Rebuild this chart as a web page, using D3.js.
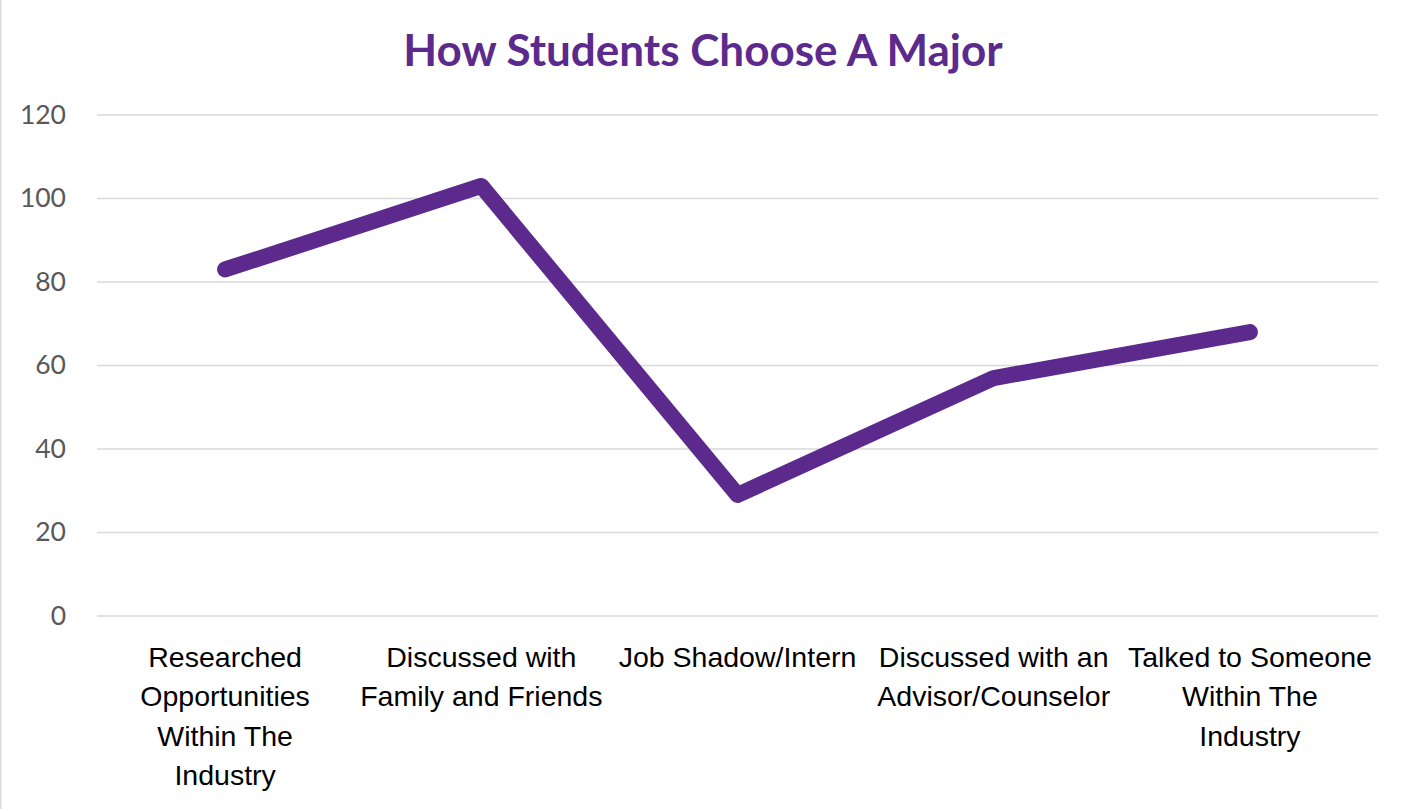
<!DOCTYPE html>
<html>
<head>
<meta charset="utf-8">
<script src="https://cdn.jsdelivr.net/npm/d3@7"></script>
<style>
  body { margin: 0; background: #fff; }
</style>
</head>
<body>
<div id="chart"></div>
<script>
// Survey answers: how students choose a major
const categories = [
    "Researched Opportunities Within The Industry",
    "Discussed with Family and Friends",
    "Job Shadow/Intern",
    "Discussed with an Advisor/Counselor",
    "Talked to Someone Within The Industry"
];
// label lines as they wrap in the original
const categoryLines = [
    ["Researched", "Opportunities", "Within The", "Industry"],
    ["Discussed with", "Family and Friends"],
    ["Job Shadow/Intern"],
    ["Discussed with an", "Advisor/Counselor"],
    ["Talked to Someone", "Within The", "Industry"]
];
const values = [83, 103, 29, 57, 68];
const yTicks = [0, 20, 40, 60, 80, 100, 120];

const width = 1405;
const height = 809;
const margin = { top: 115, right: 27, bottom: 193, left: 97 };
const purple = "#5b2a8c";

const svg = d3.select("#chart")
    .append("svg")
    .attr("width", width)
    .attr("height", height)
    .style("font-family", "Lato, 'Open Sans', sans-serif");

// chart border
svg.append("rect")
    .attr("x", 0.5)
    .attr("y", -2)
    .attr("width", width + 2)
    .attr("height", height + 4)
    .attr("fill", "#fff")
    .attr("stroke", "#d9d9d9")
    .attr("stroke-width", 2);

const x = d3.scaleBand()
    .domain(categories)
    .range([margin.left, width - margin.right]);

const y = d3.scaleLinear()
    .domain([0, 120])
    .range([height - margin.bottom, margin.top]);

// gridlines
svg.append("g")
    .selectAll("line")
    .data(yTicks)
    .join("line")
    .attr("x1", margin.left)
    .attr("x2", width - margin.right)
    .attr("y1", d => y(d))
    .attr("y2", d => y(d))
    .attr("stroke", "#d9d9d9")
    .attr("stroke-width", 1.5);

// y axis labels
const yAxis = svg.append("g")
    .attr("transform", `translate(${margin.left - 31},0)`)
    .call(d3.axisLeft(y).tickValues(yTicks).tickSize(0).tickPadding(0));
yAxis.select(".domain").remove();
yAxis.selectAll("text")
    .style("font-family", "Lato, 'Open Sans', sans-serif")
    .style("font-size", "26.5px")
    .attr("fill", "#595959");

// x axis labels
const xAxis = svg.append("g")
    .attr("transform", `translate(0,${height - margin.bottom})`)
    .call(d3.axisBottom(x).tickSize(0).tickFormat(""));
xAxis.select(".domain").remove();
xAxis.selectAll(".tick text").remove();
xAxis.selectAll(".tick")
    .append("text")
    .attr("fill", "#000")
    .attr("text-anchor", "middle")
    .style("font-size", "28.5px")
    .selectAll("tspan")
    .data((d, i) => categoryLines[i])
    .join("tspan")
    .attr("x", 0)
    .attr("y", (d, i) => 51 + i * 39.3)
    .text(d => d);

// line
const line = d3.line()
    .x((d, i) => x(categories[i]) + x.bandwidth() / 2)
    .y(d => y(d));

svg.append("path")
    .datum(values)
    .attr("d", line)
    .attr("fill", "none")
    .attr("stroke", purple)
    .attr("stroke-width", 16)
    .attr("stroke-linecap", "round")
    .attr("stroke-linejoin", "round");

// title
svg.append("text")
    .attr("x", 703)
    .attr("y", 66)
    .attr("text-anchor", "middle")
    .attr("fill", purple)
    .style("font-size", "44px")
    .style("font-weight", "bold")
    .text("How Students Choose A Major");
</script>
</body>
</html>
